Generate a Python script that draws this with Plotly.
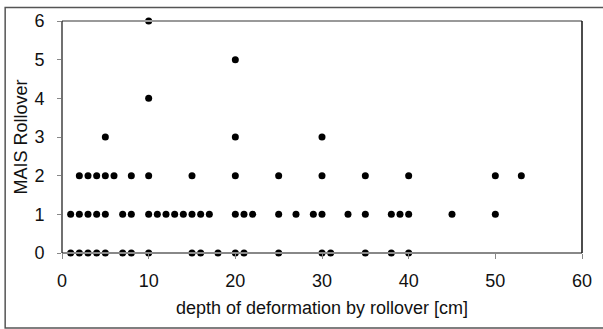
import plotly.graph_objects as go

# data
depth_mais0 = [1, 2, 3, 4, 5, 7, 8, 10, 15, 16, 18, 20, 21, 25, 30, 31, 35, 38, 40]
depth_mais1 = [1, 2, 3, 4, 5, 7, 8, 10, 11, 12, 13, 14, 15, 16, 17, 20, 21, 22, 25, 27,
               29, 30, 33, 35, 38, 39, 40, 45, 50]
depth_mais2 = [2, 3, 4, 5, 6, 8, 10, 15, 20, 25, 30, 35, 40, 50, 53]
depth_mais3 = [5, 20, 30]
depth_mais4 = [10]
depth_mais5 = [20]
depth_mais6 = [10]

groups = [(0, depth_mais0), (1, depth_mais1), (2, depth_mais2), (3, depth_mais3),
          (4, depth_mais4), (5, depth_mais5), (6, depth_mais6)]
x_vals, y_vals = [], []
for mais, depths in groups:
    for d in depths:
        x_vals.append(d)
        y_vals.append(mais)

x_ticks = [0, 10, 20, 30, 40, 50, 60]
y_ticks = [0, 1, 2, 3, 4, 5, 6]

fig = go.Figure()
fig.add_trace(go.Scatter(x=x_vals, y=y_vals, mode="markers",
                         marker=dict(color="black", size=7),
                         cliponaxis=False, showlegend=False))

font = "Liberation Sans, Arial, sans-serif"
fig.update_layout(
    width=603, height=329,
    margin=dict(l=62, r=10.5, t=21, b=76),
    paper_bgcolor="white", plot_bgcolor="white",
    font=dict(family=font, color="#111111", size=18),
    xaxis=dict(range=[0, 60], tickvals=x_ticks, showgrid=False, zeroline=False,
               showline=False, ticks="outside", ticklen=5, tickcolor="#888888",
               tickfont=dict(size=18), ticklabelstandoff=6,
               title=dict(text="depth of deformation by rollover [cm]",
                          font=dict(size=18), standoff=11)),
    yaxis=dict(range=[0, 6], tickvals=y_ticks, showgrid=False, zeroline=False,
               showline=False, ticks="outside", ticklen=4, tickcolor="#888888",
               tickfont=dict(size=18), ticklabelstandoff=9,
               title=dict(text="MAIS Rollover", font=dict(size=18), standoff=2)),
    shapes=[
        # plot area frame
        dict(type="line", xref="paper", yref="paper", x0=0, x1=1, y0=0, y1=0,
             line=dict(color="#888888", width=2)),
        dict(type="line", xref="paper", yref="paper", x0=0, x1=1, y0=1, y1=1,
             line=dict(color="#999999", width=2)),
        dict(type="line", xref="paper", yref="paper", x0=0, x1=0, y0=0, y1=1,
             line=dict(color="#111111", width=1.2)),
        dict(type="line", xref="paper", yref="paper", x0=1, x1=1, y0=0, y1=1,
             line=dict(color="#111111", width=1.5)),
        # outer chart border
        dict(type="rect", xref="paper", yref="paper", x0=-0.1093, x1=1.06,
             y0=-0.323, y1=1.058, line=dict(color="#555555", width=1.5),
             layer="below"),
    ],
)

fig.write_html("out.html")
